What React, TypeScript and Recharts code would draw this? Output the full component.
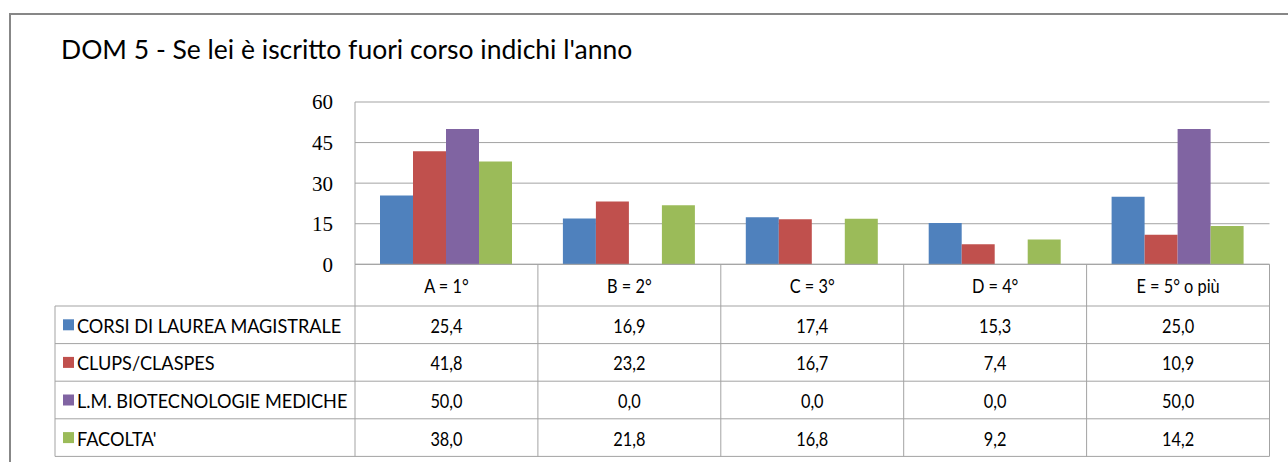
import { BarChart, Bar, XAxis, YAxis, CartesianGrid } from "recharts";

const categories = ["A = 1°", "B = 2°", "C = 3°", "D = 4°", "E = 5° o più"];
const seriesNames = ["CORSI DI LAUREA MAGISTRALE", "CLUPS/CLASPES", "L.M. BIOTECNOLOGIE MEDICHE", "FACOLTA'"];
const corsiMagistrale = [25.4, 16.9, 17.4, 15.3, 25.0];
const clupsClaspes = [41.8, 23.2, 16.7, 7.4, 10.9];
const biotecnologie = [50.0, 0.0, 0.0, 0.0, 50.0];
const facolta = [38.0, 21.8, 16.8, 9.2, 14.2];
const yTicks = [0, 15, 30, 45, 60];

const seriesValues = [corsiMagistrale, clupsClaspes, biotecnologie, facolta];
const seriesKeys = ["corsi", "clups", "biotec", "facolta"];
const colors = ["#4F81BD", "#C0504D", "#8064A2", "#9BBB59"];

const data = categories.map((cat, i) => ({
  cat,
  corsi: corsiMagistrale[i],
  clups: clupsClaspes[i],
  biotec: biotecnologie[i],
  facolta: facolta[i],
}));

// layout of the plot area + data table underneath
const W = 1288;
const H = 462;
const PLOT_LEFT = 355;
const PLOT_RIGHT = 1269.5;
const PLOT_TOP = 102;
const ZERO_Y = 264.3;
const HEADER_H = 41.7;
const ROW_H = 37.6;
const LEGEND_LEFT = 55;
const GRID = "#a3a3a3";
const FONT = "Lato, 'Noto Sans', sans-serif";

const fmt = (v: number) => v.toFixed(1).replace(".", ",");

// narrow-ish text to look closer to Calibri
function NText({ x, y, sx = 1, size, anchor = "start", children }: any) {
  return (
    <text
      transform={`translate(${x},${y}) scale(${sx},1)`}
      textAnchor={anchor}
      dominantBaseline="central"
      fontFamily={FONT}
      fontSize={size}
      fill="#000"
    >
      {children}
    </text>
  );
}

function DataTable() {
  const colW = (PLOT_RIGHT - PLOT_LEFT) / categories.length;
  const rowTop = ZERO_Y + HEADER_H;
  const bottom = rowTop + ROW_H * seriesNames.length;
  return (
    <svg width={W} height={H} style={{ position: "absolute", left: 0, top: 0, pointerEvents: "none" }}>
      <line x1={PLOT_LEFT} x2={PLOT_RIGHT} y1={ZERO_Y} y2={ZERO_Y} stroke={GRID} />
      {[0, ...seriesNames.map((_, i) => i + 1)].map((i) => (
        <line key={"h" + i} x1={LEGEND_LEFT} x2={PLOT_RIGHT} y1={rowTop + i * ROW_H} y2={rowTop + i * ROW_H} stroke={GRID} />
      ))}
      <line x1={LEGEND_LEFT} x2={LEGEND_LEFT} y1={rowTop} y2={bottom} stroke={GRID} />
      {categories.map((_, i) => (
        <line key={"v" + i} x1={PLOT_LEFT + (i + 1) * colW} x2={PLOT_LEFT + (i + 1) * colW} y1={ZERO_Y} y2={bottom} stroke={GRID} />
      ))}
      <line x1={PLOT_LEFT} x2={PLOT_LEFT} y1={ZERO_Y} y2={bottom} stroke={GRID} />

      {categories.map((c, i) => (
        <NText key={c} x={PLOT_LEFT + (i + 0.5) * colW} y={ZERO_Y + HEADER_H / 2 + 1} sx={0.86} size={19} anchor="middle">
          {c}
        </NText>
      ))}

      {seriesNames.map((name, r) => {
        const cy = rowTop + (r + 0.5) * ROW_H;
        return (
          <g key={name}>
            <rect x={63} y={cy - 5.5} width={11} height={11} fill={colors[r]} />
            <NText x={77} y={cy + 1} sx={0.98} size={18.5}>
              {name}
            </NText>
            {seriesValues[r].map((v, i) => (
              <NText key={i} x={PLOT_LEFT + (i + 0.5) * colW} y={cy + 1} sx={0.86} size={19} anchor="middle">
                {fmt(v)}
              </NText>
            ))}
          </g>
        );
      })}
    </svg>
  );
}

export default function App() {
  return (
    <div style={{ position: "absolute", left: 0, top: 0, width: W, height: H, overflow: "hidden", background: "#fff" }}>
      <div style={{ position: "absolute", left: 9, top: 13, width: 1320, height: 520, border: "2px solid #878787" }} />
      <div style={{ position: "absolute", left: 61, top: 33, fontFamily: FONT, fontSize: 26.5, color: "#000", whiteSpace: "nowrap" }}>
        DOM 5 - Se lei è iscritto fuori corso indichi l'anno
      </div>
      <div style={{ position: "absolute", left: 0, top: 0 }}>
        <BarChart
          width={W}
          height={H}
          data={data}
          margin={{ top: PLOT_TOP, right: W - PLOT_RIGHT, bottom: H - ZERO_Y, left: PLOT_LEFT - 60 }}
          barCategoryGap={25}
          barGap={0}
        >
          <CartesianGrid vertical={false} stroke={GRID} />
          <XAxis dataKey="cat" hide />
          <YAxis
            width={60}
            domain={[0, 60]}
            ticks={yTicks}
            interval={0}
            tickLine={false}
            axisLine={{ stroke: GRID }}
            tickMargin={16}
            tick={{ fill: "#000", fontSize: 21, fontFamily: "'Liberation Serif', serif" }}
          />
          {seriesKeys.map((k, i) => (
            <Bar key={k} dataKey={k} fill={colors[i]} isAnimationActive={false} />
          ))}
        </BarChart>
      </div>
      <DataTable />
    </div>
  );
}
